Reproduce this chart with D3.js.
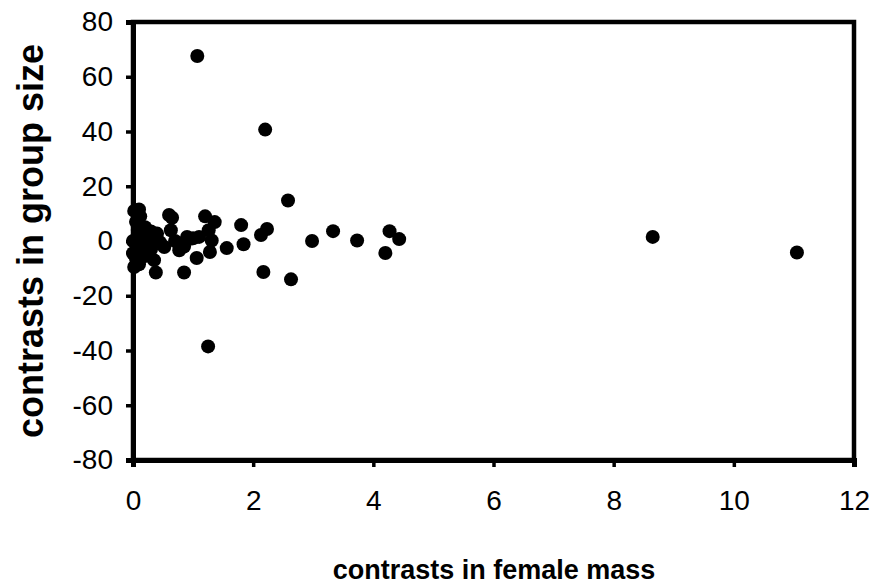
<!DOCTYPE html>
<html>
<head>
<meta charset="utf-8">
<script src="https://cdn.jsdelivr.net/npm/d3@7"></script>
<style>
  body { margin: 0; background: #fff; }
  svg text { font-family: "Liberation Sans", Arial, sans-serif; fill: #000; }
  .tick text { font-size: 28px; }
  .title { font-weight: bold; }
</style>
</head>
<body>
<div id="chart"></div>
<script>
// contrasts in female mass (x) vs contrasts in group size (y)
const massContrast = [
  0.02, 0.10, 0.12, 0.05, 0.20, 0.30, 0.25, 0.00, 0.05, 0.15, 0.30, 0.10, 0.00,
  0.20, 0.05, 0.10, 0.02, 0.35, 0.40, 0.45, 0.15, 0.30, 0.22, 0.08, 0.35,
  0.52, 0.60, 0.63, 0.65, 0.70, 0.77, 0.80, 0.90, 0.95, 0.85, 1.00, 0.38, 0.85,
  1.06, 1.20, 1.36, 1.26, 1.31, 1.28, 1.10, 1.56, 1.80, 1.84, 2.13, 2.23, 2.58,
  2.17, 2.63, 2.98, 3.33, 3.73, 4.27, 4.43, 4.20, 8.65, 11.05, 1.07, 2.20, 1.25
];
const groupContrast = [
  11, 11.5, 9, 7, 5, 3.5, 2, 0, -1, -0.5, -1, -3, -4.5,
  -5.5, -6.5, -8.5, -9.5, -7, 2.7, -0.5, 1.5, -3, -2, 4, 0.5,
  -2.2, 9.5, 3.9, 8.5, 0, -3.4, -1, 1.5, 0.8, -2, 1, -11.5, -11.5,
  -6.2, 9, 6.9, 3.9, 0.2, -4, 1.5, -2.6, 5.8, -1.2, 2.2, 4.4, 14.8,
  -11.3, -14, 0, 3.6, 0.2, 3.6, 0.7, -4.4, 1.5, -4.2, 67.6, 40.7, -38.5
];
const xTicks = [0, 2, 4, 6, 8, 10, 12];
const yTicks = [-80, -60, -40, -20, 0, 20, 40, 60, 80];

const width = 879, height = 587;
const margin = { top: 22, right: 25, bottom: 127, left: 133 };

const svg = d3.select("#chart")
  .append("svg")
  .attr("width", width)
  .attr("height", height);

const x = d3.scaleLinear()
  .domain([0, 12])
  .range([margin.left, width - margin.right]);

const y = d3.scaleLinear()
  .domain([-80, 80])
  .range([height - margin.bottom, margin.top]);

// frame
svg.append("rect")
  .attr("x", x(0))
  .attr("y", y(80))
  .attr("width", x(12) - x(0))
  .attr("height", y(-80) - y(80))
  .attr("fill", "none")
  .attr("stroke", "#000")
  .attr("stroke-width", 4.5);

// plain hyphen for negatives, like the original
const fmt = d => String(d);

const xAxis = d3.axisBottom(x).tickValues(xTicks).tickFormat(fmt).tickSize(7).tickPadding(23);
const yAxis = d3.axisLeft(y).tickValues(yTicks).tickFormat(fmt).tickSize(7).tickPadding(13);

const gx = svg.append("g")
  .attr("transform", `translate(0, ${y(-80)})`)
  .call(xAxis);
const gy = svg.append("g")
  .attr("transform", `translate(${x(0)}, 0)`)
  .call(yAxis);

[gx, gy].forEach(g => {
  g.select(".domain").attr("stroke-width", 5);
  g.selectAll(".tick line").attr("stroke-width", 3.5);
});

svg.append("g")
  .selectAll("circle")
  .data(massContrast.map((m, i) => [m, groupContrast[i]]))
  .enter()
  .append("circle")
  .attr("cx", d => x(d[0]))
  .attr("cy", d => y(d[1]))
  .attr("r", 7)
  .attr("fill", "#000");

svg.append("text")
  .attr("class", "title")
  .attr("x", 494)
  .attr("y", 579)
  .attr("font-size", 27)
  .attr("text-anchor", "middle")
  .text("contrasts in female mass");

svg.append("text")
  .attr("class", "title")
  .attr("font-size", 36)
  .attr("transform", `translate(43, ${(y(80) + y(-80)) / 2}) rotate(-90)`)
  .attr("text-anchor", "middle")
  .text("contrasts in group size");
</script>
</body>
</html>
